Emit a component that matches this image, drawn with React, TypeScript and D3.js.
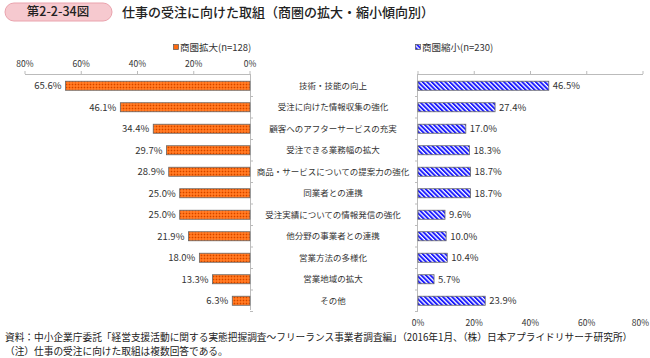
import React from "react";
import * as d3 from "d3";

const categories = [
  "技術・技能の向上",
  "受注に向けた情報収集の強化",
  "顧客へのアフターサービスの充実",
  "受注できる業務幅の拡大",
  "商品・サービスについての提案力の強化",
  "同業者との連携",
  "受注実績についての情報発信の強化",
  "他分野の事業者との連携",
  "営業方法の多様化",
  "営業地域の拡大",
  "その他",
];
const expandValues = [65.6, 46.1, 34.4, 29.7, 28.9, 25.0, 25.0, 21.9, 18.0, 13.3, 6.3];
const shrinkValues = [46.5, 27.4, 17.0, 18.3, 18.7, 18.7, 9.6, 10.0, 10.4, 5.7, 23.9];
const ticks = [0, 20, 40, 60, 80];
const seriesNames = ["商圏拡大(n=128)", "商圏縮小(n=230)"];

const FONT = "'Noto Sans CJK JP', 'Noto Sans', sans-serif";
const TXT = "#333";

export default function App() {
  const xL = d3.scaleLinear().domain([0, 80]).range([250, 25]);
  const xR = d3.scaleLinear().domain([0, 80]).range([418, 643]);
  const y = d3.scaleBand<string>().domain(categories).range([75, 311.5]).paddingInner(0.58).paddingOuter(0.29);
  const step = y.step();
  const top = 74;
  const bottomL = 310;
  const bottomR = 312;
  const fmt = (v: number) => v.toFixed(1) + "%";

  return (
    <svg width={650} height={358} style={{ position: "absolute", left: 0, top: 0, background: "#fff" }} fontFamily={FONT}>
      <defs>
        <pattern id="pOrange" width="3" height="3" patternUnits="userSpaceOnUse">
          <rect width="3" height="3" fill="#ff6a10" />
          <rect x="0" y="0" width="1" height="1" fill="#c84800" />
          <rect x="1.5" y="1.5" width="1" height="1" fill="#ffb070" />
        </pattern>
        <pattern id="pBlue" width="3.2" height="3.2" patternUnits="userSpaceOnUse" patternTransform="rotate(-45)">
          <rect width="3.2" height="3.2" fill="#ffffff" />
          <rect width="1.9" height="3.2" fill="#1a1aff" />
        </pattern>
      </defs>

      {/* title badge */}
      <rect x={5} y={3} width={107} height={18} rx={9} fill="#f6c9cf" stroke="#eaa3ad" strokeWidth={1} />
      <text x={58} y={16} textAnchor="middle" fontSize={12.5} fontWeight={500} fill="#222">第2-2-34図</text>
      <text x={122} y={16.5} fontSize={13} fontWeight={500} fill="#222">仕事の受注に向けた取組（商圏の拡大・縮小傾向別）</text>

      {/* legends */}
      <rect x={173.5} y={44.5} width={5} height={5} fill="#ff6a10" stroke="#555" strokeWidth={0.7} />
      <text x={180} y={51} fontSize={9.5} fill={TXT}>{seriesNames[0]}</text>
      <rect x={415.5} y={44.5} width={5} height={5} fill="url(#pBlue)" stroke="#555" strokeWidth={0.7} />
      <text x={422} y={51} fontSize={9.5} fill={TXT}>{seriesNames[1]}</text>

      {/* left axis */}
      {ticks.map((t) => (
        <g key={"lt" + t}>
          <text x={xL(t)} y={67} textAnchor="middle" fontSize={8.5} fill={TXT}>{t}%</text>
          <line x1={xL(t)} x2={xL(t)} y1={top - 3} y2={top} stroke="#bbb" />
        </g>
      ))}
      <line x1={xL(80)} x2={xL(0)} y1={top + 0.5} y2={top + 0.5} stroke="#bbb" />
      <line x1={xL(0) + 0.5} x2={xL(0) + 0.5} y1={top} y2={bottomL} stroke="#bbb" />
      {categories.map((c, i) => (
        <line key={"ltk" + i} x1={xL(0)} x2={xL(0) + 3} y1={75 + step * (i + 1)} y2={75 + step * (i + 1)} stroke="#bbb" />
      ))}

      {/* right axis */}
      {ticks.map((t) => (
        <g key={"rt" + t}>
          <text x={t === 80 ? 649 : xR(t)} y={326} textAnchor={t === 80 ? "end" : "middle"} fontSize={8.5} fill={TXT}>{t}%</text>
          <line x1={xR(t)} x2={xR(t)} y1={top - 3} y2={top} stroke="#bbb" />
        </g>
      ))}
      <line x1={xR(0)} x2={xR(80)} y1={top + 0.5} y2={top + 0.5} stroke="#bbb" />
      <line x1={xR(0) - 0.5} x2={xR(0) - 0.5} y1={top} y2={bottomR} stroke="#bbb" />
      {categories.map((c, i) => (
        <line key={"rtk" + i} x1={xR(0) - 3} x2={xR(0)} y1={75 + step * (i + 1)} y2={75 + step * (i + 1)} stroke="#bbb" />
      ))}

      {/* bars */}
      {categories.map((c, i) => {
        const by = y(c)!;
        const bh = y.bandwidth();
        const cy = by + bh / 2;
        const lv = expandValues[i];
        const rv = shrinkValues[i];
        return (
          <g key={c}>
            <rect x={xL(lv)} y={by} width={xL(0) - xL(lv)} height={bh} fill="url(#pOrange)" stroke="#666" strokeWidth={0.8} />
            <text x={xL(lv) - 4} y={cy + 3.5} textAnchor="end" fontSize={9.5} fill={TXT}>{fmt(lv)}</text>
            <text x={333} y={cy + 3.2} textAnchor="middle" fontSize={8.5} fill={TXT}>{c}</text>
            <rect x={xR(0)} y={by} width={xR(rv) - xR(0)} height={bh} fill="url(#pBlue)" stroke="#666" strokeWidth={0.8} />
            <text x={xR(rv) + 4} y={cy + 3.5} fontSize={9.5} fill={TXT}>{fmt(rv)}</text>
          </g>
        );
      })}

      {/* footer */}
      <text x={5} y={341} fontSize={9.7} fill="#222">資料：中小企業庁委託「経営支援活動に関する実態把握調査～フリーランス事業者調査編」（2016年1月、（株）日本アプライドリサーチ研究所）</text>
      <text x={5} y={355} fontSize={9.7} fill="#222">（注）仕事の受注に向けた取組は複数回答である。</text>
    </svg>
  );
}
